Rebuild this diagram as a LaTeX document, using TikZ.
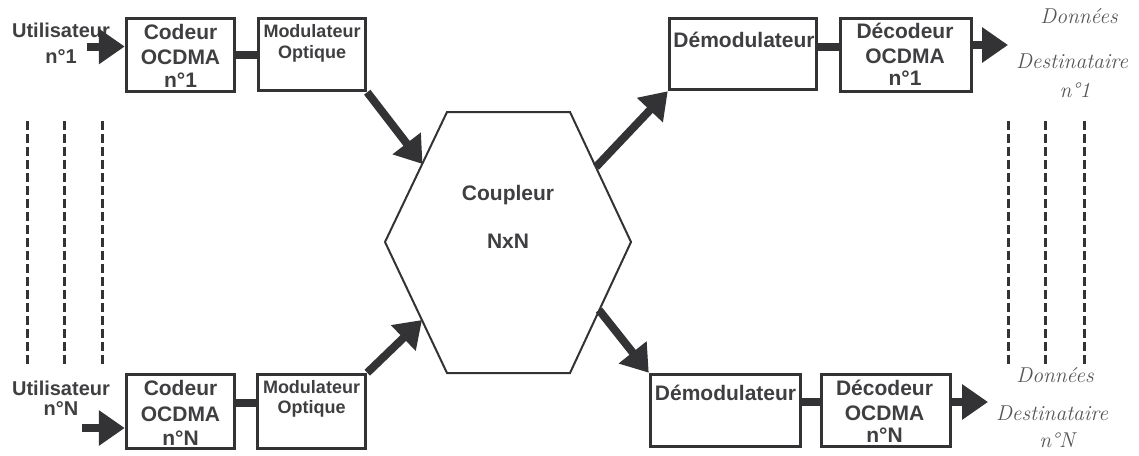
\documentclass[tikz,border=0pt]{standalone}
\usepackage{fontspec}
\usetikzlibrary{arrows.meta,calc}
\newfontfamily\labelfont{Liberation Sans}
\definecolor{ink}{HTML}{333335}
\definecolor{txt}{HTML}{3F3F42}
\definecolor{soft}{HTML}{555555}

\tikzset{
  box/.style={draw=ink, line width=3.5pt, inner sep=0pt, fill=white},
  lbl/.style={inner sep=0pt, anchor=base, text=txt,
    font=\labelfont\bfseries\fontsize{21}{24}\selectfont},
  user/.style={lbl, font=\labelfont\bfseries\fontsize{20}{24}\selectfont},
  small/.style={lbl, font=\labelfont\bfseries\fontsize{18}{20}\selectfont},
  dest/.style={inner sep=0pt, anchor=base, text=soft,
    font=\itshape\fontsize{21.5}{24}\selectfont},
  flow/.style={draw=ink, line width=8pt, -{Triangle[length=26pt,width=34pt]}},
  link/.style={draw=ink, line width=8pt},
  dots/.style={draw=ink, line width=3pt, dash pattern=on 9pt off 4pt},
  hexa/.style={draw=ink, line width=2pt, fill=white},
}

\begin{document}
\begin{tikzpicture}[x=1pt,y=-1pt]
\useasboundingbox (0,0) rectangle (1139,455);

% ---------- coupler (hexagon) ----------
\coordinate (h1) at (447,112);
\coordinate (h2) at (570,112);
\coordinate (h3) at (631,242);
\coordinate (h4) at (570,373);
\coordinate (h5) at (447,373);
\coordinate (h6) at (385,242);
\draw[hexa] (h1) -- (h2) -- (h3) -- (h4) -- (h5) -- (h6) -- cycle;
\node[lbl] (cpl) at (508,200) {Coupleur};
\node[lbl] (nxn) at (508,248) {NxN};
% ports on the coupler edges
\coordinate (inA)  at (422.5,164);
\coordinate (inB)  at (422,320);
\coordinate (outA) at (596,167);
\coordinate (outB) at (599,310);

% ---------- boxes ----------
\node[box, minimum width=108pt, minimum height=73pt] (cod1) at (180.5,55) {};
\node[box, minimum width=107pt, minimum height=72pt] (mod1) at (312,54.5) {};
\node[box, minimum width=147pt, minimum height=71pt] (dem1) at (743,54) {};
\node[box, minimum width=131pt, minimum height=73pt] (dec1) at (906,55) {};
\node[box, minimum width=108pt, minimum height=74pt] (codN) at (180.5,411.5) {};
\node[box, minimum width=108pt, minimum height=74pt] (modN) at (311.5,411.5) {};
\node[box, minimum width=150pt, minimum height=72pt] (demN) at (725.5,410.5) {};
\node[box, minimum width=129pt, minimum height=72pt] (decN) at (886,410.5) {};

% ---------- labels, first channel ----------
\node[user] (u1a) at (61,37) {Utilisateur};
\node[user] (u1b) at (61,63) {n°1};
\node[lbl] (c1a) at (180.5,39) {Codeur};
\node[lbl] (c1b) at (180.5,64) {OCDMA};
\node[lbl] (c1c) at (180.5,87) {n°1};
\node[small] (m1a) at (312,37) {Modulateur};
\node[small] (m1b) at (312,58) {Optique};
\node[lbl] (d1a) at (744,47) {Démodulateur};
\node[lbl] (k1a) at (905,38) {Décodeur};
\node[lbl] (k1b) at (905,63) {OCDMA};
\node[lbl] (k1c) at (905,85) {n°1};
\node[dest] (r1a) at (1079,23) {Données};
\node[dest] (r1b) at (1072,68) {Destinataire};
\node[dest] (r1c) at (1075,97) {n°1};

% ---------- labels, N-th channel ----------
\node[user] (uNa) at (61,395) {Utilisateur};
\node[user] (uNb) at (61,415) {n°N};
\node[lbl] (cNa) at (180.5,395) {Codeur};
\node[lbl] (cNb) at (180.5,421) {OCDMA};
\node[lbl] (cNc) at (180.5,445) {n°N};
\node[small] (mNa) at (311.5,393) {Modulateur};
\node[small] (mNb) at (311.5,413) {Optique};
\node[lbl] (dNa) at (725.5,400) {Démodulateur};
\node[lbl] (kNa) at (884.5,395) {Décodeur};
\node[lbl] (kNb) at (884.5,420) {OCDMA};
\node[lbl] (kNc) at (884.5,442) {n°N};
\node[dest] (rNa) at (1055,382) {Données};
\node[dest] (rNb) at (1052,420) {Destinataire};
\node[dest] (rNc) at (1057,447) {n°N};

% ---------- links between stages ----------
\draw[link] (cod1.east) -- (cod1.east -| mod1.west);
\draw[link] ([yshift=7pt]dem1.east) -- ([yshift=7pt]dem1.east -| dec1.west);
\draw[link] ([yshift=8.5pt]codN.east) -- ([yshift=8.5pt]codN.east -| modN.west);
\draw[link] ([yshift=8.5pt]demN.east) -- ([yshift=8.5pt]demN.east -| decN.west);

% ---------- data flow arrows ----------
\coordinate (src1) at (87,46.5);
\coordinate (srcN) at (82,428);
\coordinate (dst1) at (1008,45);
\coordinate (dstN) at (988,402);
\draw[flow] (src1) -- (src1 -| cod1.west);
\draw[flow] (srcN) -- (srcN -| codN.west);
\draw[flow] (mod1.south east) -- (inA);
\draw[flow] (modN.north east) -- (inB);
\draw[flow] (outA) -- (dem1.south west);
\draw[flow] (outB) -- (demN.north west);
\draw[flow] (dst1 -| dec1.east) -- (dst1);
\draw[flow] (dstN -| decN.east) -- (dstN);

% ---------- elided channels ----------
\foreach \x in {27,64,102} \draw[dots] (\x,121) -- (\x,365);
\foreach \x in {1008,1045,1084} \draw[dots] (\x,121) -- (\x,366);
\end{tikzpicture}
\end{document}
